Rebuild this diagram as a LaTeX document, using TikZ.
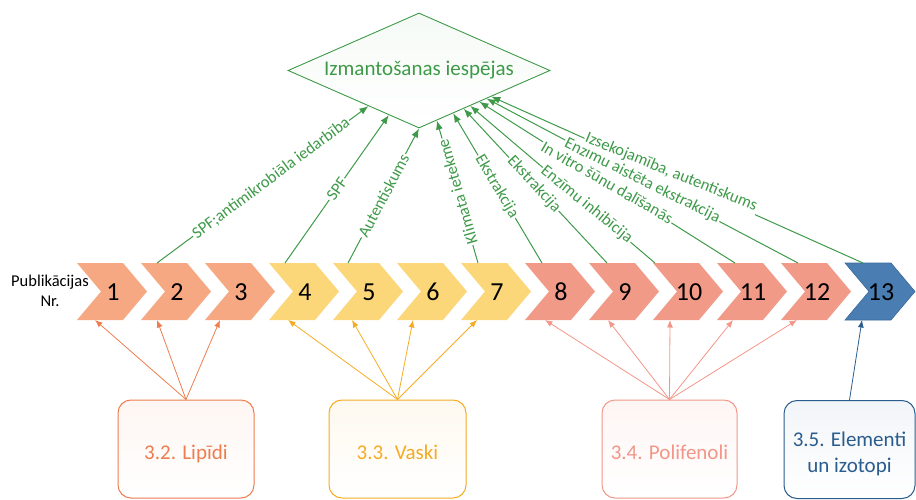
\documentclass[tikz,border=0pt]{standalone}
\usepackage{fontspec}
\setmainfont{Carlito}
\usetikzlibrary{arrows.meta,shapes.geometric,calc}

\definecolor{usegreen}{RGB}{62,154,72}
\definecolor{lipfill}{RGB}{245,168,130}
\definecolor{vasfill}{RGB}{252,215,122}
\definecolor{polfill}{RGB}{242,154,136}
\definecolor{elefill}{RGB}{74,126,179}
\definecolor{eleedge}{RGB}{58,104,156}
\definecolor{lipline}{RGB}{237,125,78}
\definecolor{vasline}{RGB}{245,172,35}
\definecolor{polline}{RGB}{243,150,136}
\definecolor{eleline}{RGB}{42,92,142}

\begin{document}
\begin{tikzpicture}[x=1pt,y=-1pt,
  lipchev/.style={fill=lipfill},
  vaschev/.style={fill=vasfill},
  polchev/.style={fill=polfill},
  elechev/.style={fill=elefill,draw=eleedge,line width=0.6pt},
  pubno/.style={inner sep=0pt,font=\fontsize{26}{26}\selectfont},
  uplink/.style={draw=usegreen,line width=1pt,-{Latex[length=9pt,width=7pt]}},
  tag/.style={sloped,fill=white,inner sep=1.2pt,text=usegreen,font=\fontsize{16.5}{16.5}\selectfont},
  downlink/.style={line width=0.8pt,-{Latex[length=7.5pt,width=6pt]}},
  topic/.style={draw,line width=1pt,rounded corners=13pt,minimum height=98pt,inner sep=0pt},
  topictext/.style={font=\fontsize{21}{26}\selectfont,align=center,inner sep=0pt}
]
\useasboundingbox (0,0) rectangle (916,500);

% usage target
\node[diamond,aspect=2.28,draw=usegreen,line width=0.9pt,
      minimum width=262pt,minimum height=115pt,inner sep=0pt,
      top color=usegreen!5,bottom color=white,
      text=usegreen,font=\fontsize{21}{21}\selectfont] (goal) at (419,70.5)
      {Izmantošanas iespējas};

% publication row
\node[align=center,inner sep=0pt,font=\fontsize{16.5}{20}\selectfont] (publ) at (50,291)
      {Publikācijas\\Nr.};

\foreach \i/\sty/\tp/\bt in {
  1/lipchev/16/18, 2/lipchev/16/16, 3/lipchev/16/15,
  4/vaschev/16/19, 5/vaschev/15/19, 6/vaschev/16/16, 7/vaschev/17/16,
  8/polchev/17/20, 9/polchev/18/19, 10/polchev/2/17, 11/polchev/18/16,
  12/polchev/17/16, 13/elechev/18/17}
{
  \pgfmathsetmacro{\L}{77+64*(\i-1)}
  \path[\sty] (\L,263) -- ++(46,0) -- ++(24,28.5) -- ++(-24,28.5)
              -- ++(-46,0) -- ++(24,-28.5) -- cycle;
  \node[pubno] (n\i) at (\L+36,292) {\i};
  \coordinate (t\i) at (\L+\tp,263);
  \coordinate (b\i) at (\L+\bt,320);
}

% green links to the usage target
\draw[uplink] (t2) -- node[tag,pos=0.54]{SPF;antimikrobiāla iedarbība}
      ($(goal.south)!0.385!(goal.west)$);
\draw[uplink] (t4) -- node[tag,pos=0.5]{SPF}
      ($(goal.south)!0.23!(goal.west)$);
\draw[uplink] (t5) -- node[tag,pos=0.5]{Autentiskums} (goal.south);
\draw[uplink] (t7) -- node[tag,pos=0.5,allow upside down]{Klimata ietekme}
      ($(goal.south)!0.136!(goal.east)$);
\draw[uplink] (t8) -- node[tag,pos=0.51]{Ekstrakcija}
      ($(goal.south)!0.26!(goal.east)$);
\draw[uplink] (t9) -- node[tag,pos=0.51]{Ekstrakcija}
      ($(goal.south)!0.34!(goal.east)$);
\draw[uplink] (t10) -- node[tag,pos=0.37,rotate=1.5]{Enzīmu inhibīcija}
      ($(goal.south)!0.39!(goal.east)$);
\draw[uplink] (t11) -- node[tag,pos=0.5,rotate=2.5]{In vitro šūnu dalīšanās}
      ($(goal.south)!0.46!(goal.east)$);
\draw[uplink] (t12) -- node[tag,pos=0.5,rotate=1.5]{Enzīmu aistēta ekstrakcija}
      ($(goal.south)!0.515!(goal.east)$);
\draw[uplink] (t13) -- node[tag,pos=0.52,rotate=2,anchor=base]{Izsekojamība, autentiskums}
      ($(goal.south)!0.55!(goal.east)$);

% topic boxes
\node[topic,draw=lipline,top color=lipline!7,bottom color=white,minimum width=136pt] (lip) at (186,449) {};
\node[topic,draw=vasline,top color=vasline!7,bottom color=white,minimum width=137pt] (vas) at (397.5,449) {};
\node[topic,draw=polline,top color=polline!9,bottom color=white,minimum width=135pt] (pol) at (669.5,449) {};
\node[topic,draw=eleline,top color=eleline!6,bottom color=white,minimum width=131pt] (ele) at (849.5,449.5) {};

\node[topictext,text=lipline,anchor=base] (lip-t) at (186,459) {3.2. Lipīdi};
\node[topictext,text=vasline,anchor=base] (vas-t) at (397.5,459) {3.3. Vaski};
\node[topictext,text=polline,anchor=base] (pol-t) at (669.5,459) {3.4. Polifenoli};
\node[topictext,text=eleline] (ele-t) at (849.5,454) {3.5. Elementi\\un izotopi};

% links from topics to publications
\foreach \i in {1,2,3} \draw[downlink,lipline] (lip.north) -- (b\i);
\foreach \i in {4,5,6,7} \draw[downlink,vasline] (vas.north) -- (b\i);
\foreach \i in {8,9,10,11,12} \draw[downlink,polline] (pol.north) -- (b\i);
\draw[downlink,eleline] (ele.north) -- (b13);
\end{tikzpicture}
\end{document}
